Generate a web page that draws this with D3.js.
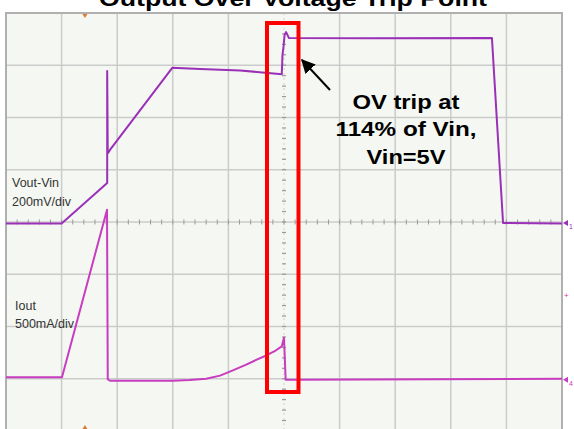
<!DOCTYPE html>
<html>
<head>
<meta charset="utf-8">
<script src="https://cdn.jsdelivr.net/npm/d3@7"></script>
<style>
  body { margin: 0; background: #ffffff; }
  svg { display: block; }
</style>
</head>
<body>
<svg id="chart" width="574" height="429"></svg>
<script>
// scope trace, time in divisions (0..10)
const voutTime = [0, 1.0, 1.82, 1.82, 1.83, 1.87, 2.99, 3.49, 4.21, 4.96, 4.973, 4.991, 5.01, 5.036, 5.09, 6.5, 8.74, 8.94, 10];
const voutMv = [-6, -6, 149, 578, 262, 276, 590, 586, 580, 566, 640, 670, 715, 727, 704, 703, 704, -4, -6];

const ioutTime = [0, 1.007, 1.817, 1.83, 1.87, 3.0, 3.3, 3.6, 3.85, 4.08, 4.3, 4.5, 4.69, 4.85, 4.96, 5.0, 5.03, 5.11, 10];
const ioutMa = [15, 15, 1617, -5, -19, -18, -12, 0, 30, 80, 130, 180, 225, 270, 310, 392, -10, -10, 0];

const title = "Output Over Voltage Trip Point";
const noteLines = ["OV trip at", "114% of Vin,", "Vin=5V"];
const voutLabel = ["Vout-Vin", "200mV/div"];
const ioutLabel = ["Iout", "500mA/div"];
const voutPerDiv = 200;
const ioutPerDiv = 500;
const ioutOffset = -3; // divisions

const svg = d3.select("#chart");

const x = d3.scaleLinear().domain([0, 10]).range([6, 562]);
const y = d3.scaleLinear().domain([-4, 4]).range([431, 13]);

// plot background
svg.append("rect")
  .attr("x", x(0)).attr("y", y(4))
  .attr("width", x(10) - x(0)).attr("height", y(-4) - y(4))
  .attr("fill", "#f5f8f2");

// grid
const grid = svg.append("g");
grid.selectAll(".vg")
  .data(x.ticks(10).filter(d => d !== 5))
  .enter().append("line")
  .attr("x1", d => x(d)).attr("x2", d => x(d))
  .attr("y1", y(4)).attr("y2", y(-4))
  .attr("stroke", "#cbcbcb").attr("stroke-width", 1.5);

grid.selectAll(".hg")
  .data(y.ticks(8))
  .enter().append("line")
  .attr("x1", x(0)).attr("x2", x(10))
  .attr("y1", d => y(d)).attr("y2", d => y(d))
  .attr("stroke", "#cbcbcb").attr("stroke-width", 1.5);

// center vertical axis, dotted
grid.append("line")
  .attr("x1", x(5)).attr("x2", x(5))
  .attr("y1", y(4)).attr("y2", y(-4))
  .attr("stroke", "#cfcfcf").attr("stroke-width", 1)
  .attr("stroke-dasharray", "2,3");

// minor ticks on center axes
grid.selectAll(".mx")
  .data(d3.range(0, 10.001, 0.2))
  .enter().append("line")
  .attr("x1", d => x(d)).attr("x2", d => x(d))
  .attr("y1", y(0) - 2.5).attr("y2", y(0) + 2.5)
  .attr("stroke", "#9a9a9a").attr("stroke-width", 1);

grid.selectAll(".my")
  .data(d3.range(-4, 4.001, 0.2))
  .enter().append("line")
  .attr("x1", x(5) - 2).attr("x2", x(5) + 2)
  .attr("y1", d => y(d)).attr("y2", d => y(d))
  .attr("stroke", "#9a9a9a").attr("stroke-width", 1.2);

// frame
svg.append("rect")
  .attr("x", x(0)).attr("y", y(4))
  .attr("width", x(10) - x(0)).attr("height", y(-4) - y(4))
  .attr("fill", "none").attr("stroke", "#b0b0b0").attr("stroke-width", 2);

// traces
const voutLine = d3.line()
  .x((d, i) => x(voutTime[i]))
  .y(d => y(d / voutPerDiv));

const ioutLine = d3.line()
  .x((d, i) => x(ioutTime[i]))
  .y(d => y(ioutOffset + d / ioutPerDiv));

svg.append("path")
  .attr("d", voutLine(voutMv))
  .attr("fill", "none")
  .attr("stroke", "#9b30b8")
  .attr("stroke-width", 2)
  .attr("stroke-linejoin", "round");

svg.append("path")
  .attr("d", ioutLine(ioutMa))
  .attr("fill", "none")
  .attr("stroke", "#c83cbf")
  .attr("stroke-width", 2)
  .attr("stroke-linejoin", "round");

// channel markers on right
const markers = [
  { v: 0, label: "1", color: "#9b30b8" },
  { v: ioutOffset, label: "4", color: "#c83cbf" }
];
markers.forEach(m => {
  const yy = y(m.v) + 1;
  svg.append("path")
    .attr("d", `M${x(10) + 1},${yy} l5,-3 l0,6 z`)
    .attr("fill", m.color);
  svg.append("text")
    .attr("x", x(10) + 7).attr("y", yy + 6)
    .attr("font-family", "Liberation Sans, Arial, sans-serif")
    .attr("font-size", 7)
    .attr("fill", m.color)
    .text(m.label);
});
svg.append("text")
  .attr("x", x(10) + 2).attr("y", y(-1.4) + 3)
  .attr("font-family", "Liberation Sans, Arial, sans-serif")
  .attr("font-size", 8)
  .attr("fill", "#d0408a")
  .text("+");

// trigger markers (orange)
svg.append("path")
  .attr("d", `M${x(1.42) - 2.5},${y(4) + 1} l5,0 l-2.5,4 z`)
  .attr("fill", "#e07830");
svg.append("path")
  .attr("d", `M${x(1.42) - 2.5},${y(-4) - 2} l5,0 l-2.5,-4 z`)
  .attr("fill", "#e07830");

// channel labels
const labelFont = "Liberation Sans, Arial, sans-serif";
svg.append("text").attr("x", 12).attr("y", 187)
  .attr("font-family", labelFont).attr("font-size", 12.5).attr("fill", "#333")
  .text(voutLabel[0]);
svg.append("text").attr("x", 12).attr("y", 206)
  .attr("font-family", labelFont).attr("font-size", 12.5).attr("fill", "#333")
  .text(voutLabel[1]);
svg.append("text").attr("x", 15).attr("y", 310)
  .attr("font-family", labelFont).attr("font-size", 12.5).attr("fill", "#333")
  .text(ioutLabel[0]);
svg.append("text").attr("x", 15).attr("y", 328)
  .attr("font-family", labelFont).attr("font-size", 12.5).attr("fill", "#333")
  .text(ioutLabel[1]);

// red highlight box
svg.append("rect")
  .attr("x", 267).attr("y", 23)
  .attr("width", 31.5).attr("height", 369)
  .attr("fill", "none")
  .attr("stroke", "#ff0000")
  .attr("stroke-width", 4);

// arrow
svg.append("defs").append("marker")
  .attr("id", "arrowhead")
  .attr("viewBox", "0 0 10 10")
  .attr("refX", 9).attr("refY", 5)
  .attr("markerWidth", 7).attr("markerHeight", 7)
  .attr("markerUnits", "strokeWidth")
  .attr("orient", "auto")
  .append("path")
  .attr("d", "M0,0 L10,5 L0,10 z")
  .attr("fill", "#000");

svg.append("line")
  .attr("x1", 330).attr("y1", 90)
  .attr("x2", 302).attr("y2", 60)
  .attr("stroke", "#000")
  .attr("stroke-width", 2)
  .attr("marker-end", "url(#arrowhead)");

// annotation text
const noteWidths = [107, 141, 79];
const noteY = [108.5, 136, 163.5];
svg.selectAll(".note")
  .data(noteLines)
  .enter().append("text")
  .attr("x", (d, i) => 406 - noteWidths[i] / 2)
  .attr("y", (d, i) => noteY[i])
  .attr("textLength", (d, i) => noteWidths[i])
  .attr("lengthAdjust", "spacingAndGlyphs")
  .attr("font-family", "Liberation Sans, Arial, sans-serif")
  .attr("font-weight", "bold")
  .attr("font-size", 20)
  .attr("fill", "#000")
  .text(d => d);

// title (cut off at top, as in the source)
svg.append("text")
  .attr("x", 99).attr("y", 6)
  .attr("textLength", 388)
  .attr("lengthAdjust", "spacingAndGlyphs")
  .attr("font-family", "Liberation Sans, Arial, sans-serif")
  .attr("font-weight", "bold")
  .attr("font-size", 22)
  .attr("fill", "#000")
  .text(title);
</script>
</body>
</html>
